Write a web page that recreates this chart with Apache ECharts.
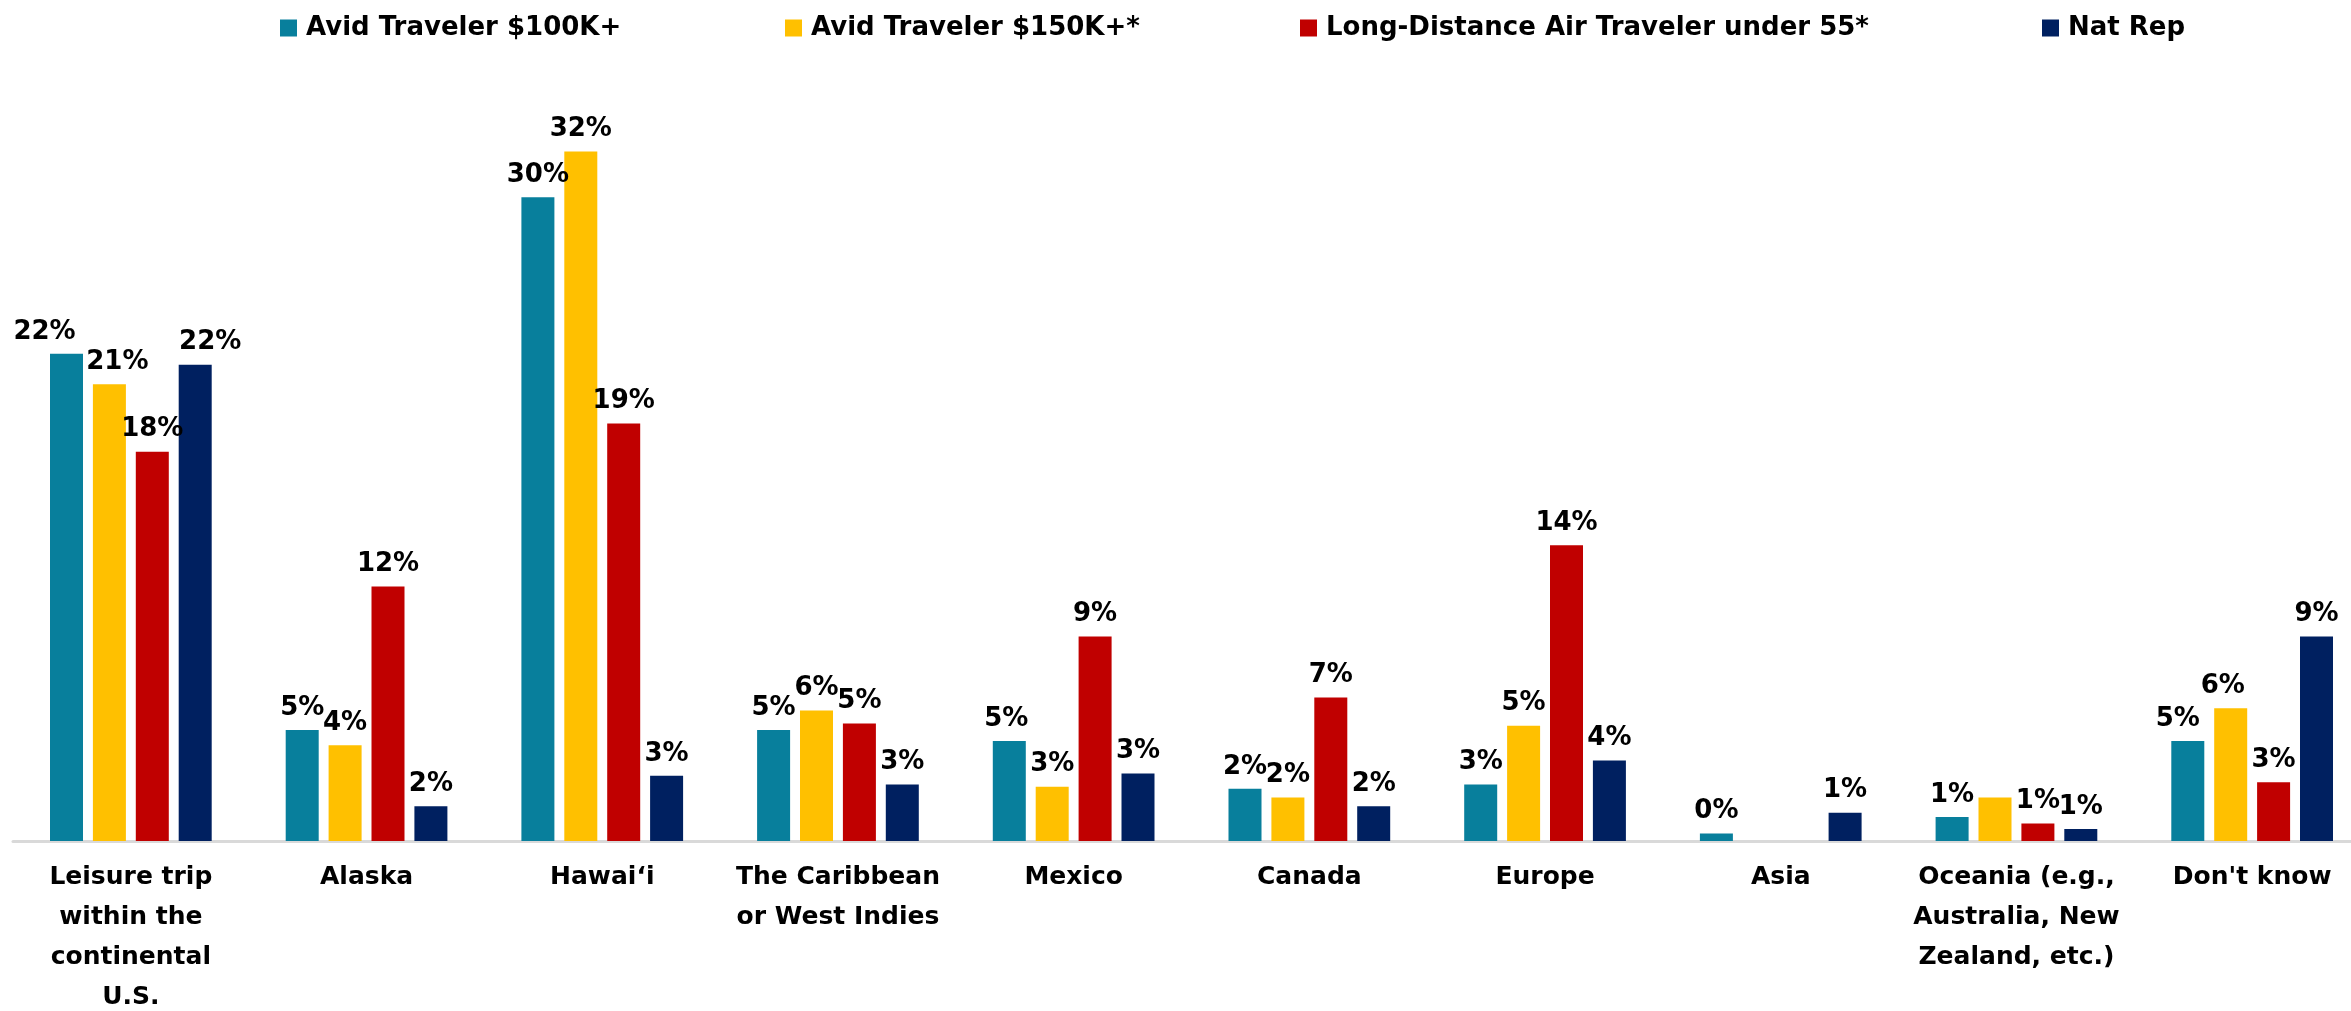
<!DOCTYPE html>
<html>
<head>
<meta charset="utf-8">
<title>Destinations</title>
<script src="https://cdn.jsdelivr.net/npm/echarts@6/dist/echarts.min.js"></script>
<style>
  html, body { margin: 0; padding: 0; background: #fff; }
  #chart { width: 2351px; height: 1011px; }
</style>
</head>
<body>
<div id="chart"></div>
<script>
const categories = [
  'Leisure trip\nwithin the\ncontinental\nU.S.',
  'Alaska',
  'Hawai\u2018i',
  'The Caribbean\nor West Indies',
  'Mexico',
  'Canada',
  'Europe',
  'Asia',
  'Oceania (e.g.,\nAustralia, New\nZealand, etc.)',
  "Don't know"
]
const seriesNames = [
  'Avid Traveler $100K+',
  'Avid Traveler $150K+*',
  'Long-Distance Air Traveler under 55*',
  'Nat Rep'
]
const avid100 = [22.4, 5.1, 29.6, 5.1, 4.6, 2.4, 2.6, 0.35, 1.1, 4.6]
const avid150 = [21.0, 4.4, 31.7, 6.0, 2.5, 2.0, 5.3, null, 2.0, 6.1]
const airUnder55 = [17.9, 11.7, 19.2, 5.4, 9.4, 6.6, 13.6, null, 0.8, 2.7]
const natRep = [21.9, 1.6, 3.0, 2.6, 3.1, 1.6, 3.7, 1.3, 0.55, 9.4]
// Oceania value for $150K+ has no label in the original
const avid150NoLabel = [8]

const colors = ['#087f9c', '#ffc000', '#c00000', '#002060']
const font = 'DejaVu Sans'
// labels nudged sideways in the original (series -> category -> px)
const labelShift = [
  { 0: -22, 4: -3, 9: -10 },
  { 0: 8, 9: -8 },
  {},
  { 0: 15 }
]

const chart = echarts.init(document.getElementById('chart'))

const legendLeft = [275, 780, 1295, 2037]
const legends = seriesNames.map((name, i) => ({
  data: [name],
  left: legendLeft[i],
  top: 10,
  icon: 'rect',
  itemWidth: 17,
  itemHeight: 17,
  textStyle: {
    fontFamily: font,
    fontWeight: 'bold',
    fontSize: 26,
    color: '#000',
    padding: [0, 0, 0, 4]
  }
}))

function makeData (values, noLabel, shift) {
  return values.map((v, i) => {
    if (v === null) return '-'
    if (noLabel && noLabel.indexOf(i) >= 0) {
      return { value: v, label: { show: false } }
    }
    if (shift[i]) {
      return { value: v, label: { offset: [shift[i], 0] } }
    }
    return v
  })
}

const valueSets = [avid100, avid150, airUnder55, natRep]
const series = valueSets.map((vals, i) => ({
  name: seriesNames[i],
  type: 'bar',
  data: makeData(vals, i === 1 ? avid150NoLabel : null, labelShift[i]),
  barWidth: 33,
  barGap: '30%',
  itemStyle: { color: colors[i] },
  label: {
    show: true,
    position: 'top',
    distance: 9,
    fontFamily: font,
    fontWeight: 'bold',
    fontSize: 26,
    color: '#000',
    formatter: p => Math.round(p.value) + '%'
  }
}))

const option = {
  animation: false,
  legend: legends,
  grid: {
    left: 13,
    right: -19,
    top: 145,
    bottom: 170,
    outerBoundsMode: 'none'
  },
  xAxis: {
    type: 'category',
    data: categories,
    axisLine: { show: true, lineStyle: { color: '#d9d9d9', width: 3 } },
    axisTick: { show: false },
    axisLabel: {
      interval: 0,
      margin: 16,
      fontFamily: font,
      fontWeight: 'bold',
      fontSize: 25,
      lineHeight: 40,
      color: '#000',
      verticalAlign: 'top'
    }
  },
  yAxis: {
    type: 'value',
    min: 0,
    max: 32,
    show: false,
    splitLine: { show: false }
  },
  series: series
}

chart.setOption(option)
window.addEventListener('resize', () => {
  chart.resize()
})
</script>
</body>
</html>
